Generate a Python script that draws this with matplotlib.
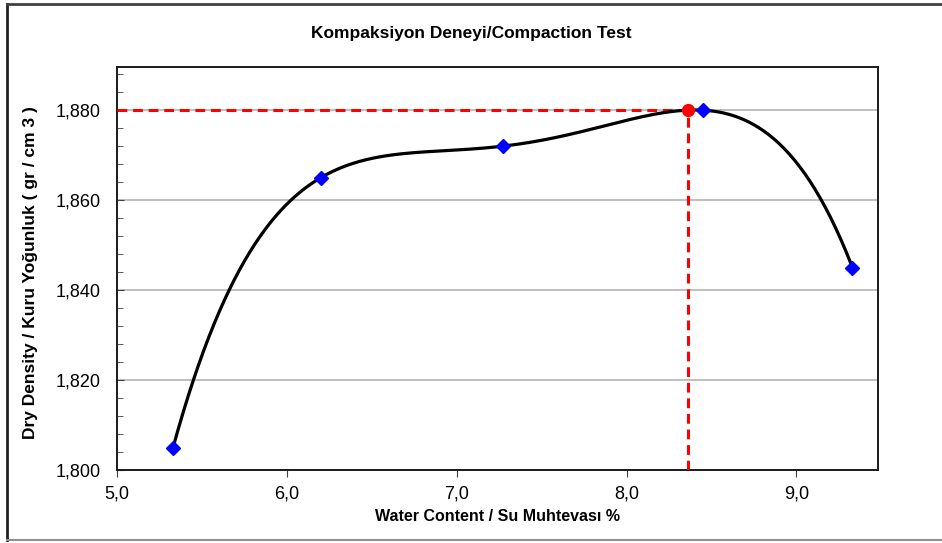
import numpy as np
import matplotlib
matplotlib.use("Agg")
import matplotlib.pyplot as plt
from matplotlib.lines import Line2D
from matplotlib.ticker import MultipleLocator, FuncFormatter

# Compaction test results
water_content = [5.33, 6.20, 7.27, 8.45, 9.33]
dry_density = [1.805, 1.865, 1.872, 1.880, 1.845]

# Optimum water content / maximum dry density
opt_water = 8.36
opt_density = 1.880

plt.rcParams["font.family"] = ["Liberation Sans", "DejaVu Sans"]

fig = plt.figure(figsize=(9.42, 5.43), dpi=100)
ax = fig.add_axes([0.1242, 0.1344, 0.8078, 0.7422])
ax.set_xlim(5.0, 9.48)
ax.set_ylim(1.800, 1.8896)

# 4th order curve through the five test points
coef = np.polyfit(water_content, dry_density, 4)
xs = np.linspace(min(water_content), max(water_content), 400)
ys = np.polyval(coef, xs)

ax.grid(axis="y", color="#b4b4b4", lw=1.2)
ax.set_axisbelow(True)

dash = (0, (3.2, 1.9))
ax.plot([5.0, opt_water], [opt_density, opt_density], color="#ff0000", lw=2.2, ls=dash, zorder=3)
ax.plot([opt_water, opt_water], [1.800, opt_density], color="#ff0000", lw=2.2, ls=dash, zorder=3)

ax.plot(xs, ys, color="black", lw=2.3, zorder=4)
ax.plot(water_content, dry_density, ls="none", marker="D", ms=7.5, color="#0000ff", zorder=5)
ax.plot([opt_water], [opt_density], ls="none", marker="o", ms=8.5, color="#ff0000", zorder=5)

ax.yaxis.set_major_locator(MultipleLocator(0.02))
ax.yaxis.set_minor_locator(MultipleLocator(0.004))
ax.xaxis.set_major_locator(MultipleLocator(1.0))
ax.yaxis.set_major_formatter(FuncFormatter(lambda v, _: f"{v:.3f}".replace(".", ",")))
ax.xaxis.set_major_formatter(FuncFormatter(lambda v, _: f"{v:.1f}".replace(".", ",")))
ax.tick_params(axis="y", which="both", direction="in", labelsize=13, pad=12, color="#404040")
ax.tick_params(axis="y", which="major", length=5)
ax.tick_params(axis="y", which="minor", length=4)
ax.tick_params(axis="x", direction="out", length=5, labelsize=13, pad=6, color="#404040")

for s in ax.spines.values():
    s.set_color("#1a1a1a")
    s.set_linewidth(1.4)

ax.set_xlabel("Water Content / Su Muhtevası %", fontsize=11.5, fontweight="bold")
ax.xaxis.set_label_coords(0.5, -0.097)
ax.set_ylabel("Dry Density / Kuru Yoğunluk ( gr / cm 3 )", fontsize=12.5, fontweight="bold")
ax.yaxis.set_label_coords(-0.104, 0.49)
fig.text(0.5, 0.939, "Kompaksiyon Deneyi/Compaction Test", ha="center", va="center",
         fontsize=12.5, fontweight="bold")

# outer chart frame
fig.lines.append(Line2D([0.0075, 0.0075], [0.006, 0.993], transform=fig.transFigure, color="#202020", lw=2))
fig.lines.append(Line2D([0.0075, 1.0], [0.993, 0.993], transform=fig.transFigure, color="#404040", lw=2))
fig.lines.append(Line2D([0.0075, 1.0], [0.006, 0.006], transform=fig.transFigure, color="#909090", lw=1.5))

fig.savefig("out.png", dpi=100)
